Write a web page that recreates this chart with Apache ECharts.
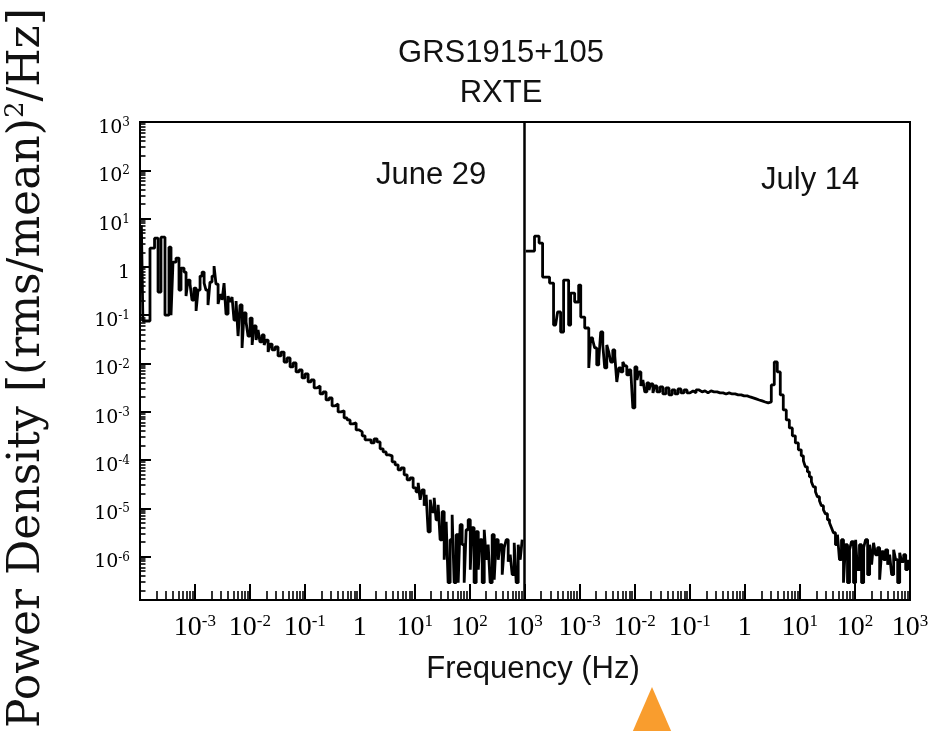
<!DOCTYPE html>
<html>
<head>
<meta charset="utf-8">
<script src="https://cdn.jsdelivr.net/npm/echarts@6/dist/echarts.min.js"></script>
<style>
  html, body { margin: 0; padding: 0; background: #fff; }
  #chart { width: 946px; height: 731px; }
</style>
</head>
<body>
<div id="chart"></div>
<script>
// Frequency bins (Hz), shared by both observations
const frequencyHz = [
  1.06e-4, 1.13e-4, 1.52e-4, 1.84e-4, 2.13e-4, 2.41e-4, 2.85e-4, 3.37e-4, 3.67e-4, 3.99e-4,
  4.53e-4, 5.13e-4, 5.58e-4, 6.33e-4, 6.89e-4, 7.48e-4, 8.14e-4, 8.85e-4, 9.63e-4, 1.05e-3,
  1.14e-3, 1.24e-3, 1.35e-3, 1.47e-3, 1.59e-3, 1.73e-3, 1.88e-3, 2.05e-3, 2.23e-3, 2.42e-3,
  2.64e-3, 2.86e-3, 3.12e-3, 3.39e-3, 3.68e-3, 4.01e-3, 4.36e-3, 4.74e-3, 5.15e-3, 5.61e-3,
  6.10e-3, 6.63e-3, 7.21e-3, 7.84e-3, 8.53e-3, 9.27e-3, 1.01e-2, 1.10e-2, 1.19e-2, 1.30e-2,
  1.41e-2, 1.53e-2, 1.67e-2, 1.82e-2, 1.97e-2, 2.15e-2, 2.33e-2, 2.54e-2, 2.88e-2, 3.26e-2,
  3.70e-2, 4.20e-2, 4.76e-2, 5.40e-2, 6.12e-2, 6.94e-2, 7.87e-2, 8.93e-2, 0.101, 0.115,
  0.130, 0.148, 0.168, 0.190, 0.215, 0.244, 0.277, 0.314, 0.356, 0.404,
  0.458, 0.520, 0.590, 0.668, 0.758, 0.860, 0.975, 1.11, 1.25, 1.42,
  1.61, 1.83, 2.07, 2.35, 2.67, 3.03, 3.43, 3.89, 4.41, 5.00,
  5.67, 6.44, 7.30, 8.28, 9.39, 10.6, 11.6, 12.6, 13.7, 14.9,
  16.2, 17.6, 19.2, 20.8, 22.7, 24.6, 26.8, 29.1, 31.7, 34.5,
  37.5, 40.7, 44.3, 48.2, 52.4, 57.0, 62.0, 67.4, 73.3, 79.8,
  86.7, 94.3, 103, 111, 121, 132, 144, 156, 170, 185,
  201, 218, 237, 258, 281, 305, 332, 361, 393, 427,
  464, 505, 549, 597, 650, 706, 768, 835, 908
];

// Power density, (rms/mean)^2/Hz — June 29
const powerJune29 = [
  7.30, 0.0755, 2.44, 3.93, 0.300, 4.12, 0.100, 2.56, 0.100, 1.25,
  1.52, 0.330, 0.942, 0.779, 0.248, 0.532, 0.440, 0.205, 0.363, 0.122,
  0.330, 0.644, 0.779, 0.461, 0.330, 0.162, 0.484, 0.644, 1.04, 0.440,
  0.170, 0.260, 0.205, 0.461, 0.105, 0.248, 0.187, 0.237, 0.0792, 0.196,
  0.0369, 0.162, 0.0209, 0.111, 0.0720, 0.0369, 0.0871, 0.0241, 0.0595, 0.0305,
  0.0492, 0.0278, 0.0388, 0.0241, 0.0305, 0.0172, 0.0252, 0.0190, 0.0219, 0.0143,
  0.0172, 0.0107, 0.0130, 0.00844, 0.0102, 0.00665, 0.00732, 0.00500, 0.00605, 0.00413,
  0.00455, 0.00311, 0.00342, 0.00233, 0.00257, 0.00175, 0.00193, 0.00132, 0.00145, 0.000990,
  0.00104, 0.000744, 0.000676, 0.000559, 0.000586, 0.000420, 0.000382, 0.000316, 0.000261, 0.000261,
  0.000226, 0.000274, 0.000237, 0.000170, 0.000147, 0.000128, 0.000122, 9.15e-5, 7.93e-5, 6.25e-5,
  6.88e-5, 4.93e-5, 3.88e-5, 4.27e-5, 2.65e-5, 2.19e-5, 3.37e-5, 1.50e-5, 2.41e-5, 1.13e-5,
  1.90e-5, 3.26e-6, 1.50e-5, 8.46e-6, 1.65e-5, 5.78e-6, 1.18e-5, 2.23e-6, 8.46e-6, 8.60e-7,
  5.26e-6, 2.88e-7, 2.23e-6, 7.34e-6, 2.88e-7, 2.83e-6, 2.88e-7, 4.56e-6, 1.76e-6, 2.88e-7,
  3.59e-6, 5.78e-6, 5.34e-7, 3.95e-6, 2.88e-7, 3.26e-6, 5.34e-7, 2.23e-6, 2.88e-7, 3.59e-6,
  8.60e-7, 1.76e-6, 2.88e-7, 2.83e-6, 3.32e-7, 2.23e-6, 8.60e-7, 1.76e-6, 4.21e-7, 1.52e-6,
  2.23e-6, 7.82e-7, 1.09e-6, 4.21e-7, 1.93e-6, 2.88e-7, 1.76e-6, 8.60e-7, 2.23e-6
];

// Power density, (rms/mean)^2/Hz — July 14 (QPO near 4 Hz)
const powerJuly14 = [
  2.12, 2.12, 4.32, 3.10, 0.614, 0.614, 0.461, 0.0624, 0.0624, 0.116,
  0.0447, 0.532, 0.532, 0.0624, 0.286, 0.286, 0.187, 0.187, 0.419, 0.0913,
  0.0913, 0.0541, 0.0541, 0.00805, 0.0336, 0.0305, 0.0209, 0.00929, 0.0118, 0.0447,
  0.0241, 0.00805, 0.0241, 0.0172, 0.0107, 0.0190, 0.0143, 0.00413, 0.00805, 0.00665,
  0.0107, 0.00886, 0.00577, 0.00732, 0.00665, 0.00120, 0.00844, 0.00455, 0.00665, 0.00342,
  0.00455, 0.00257, 0.00394, 0.00282, 0.00376, 0.00245, 0.00342, 0.00257, 0.00326, 0.00233,
  0.00311, 0.00223, 0.00282, 0.00233, 0.00296, 0.00245, 0.00282, 0.00245, 0.00269, 0.00245,
  0.00282, 0.00257, 0.00269, 0.00245, 0.00269, 0.00257, 0.00257, 0.00245, 0.00245, 0.00233,
  0.00245, 0.00233, 0.00233, 0.00223, 0.00223, 0.00212, 0.00212, 0.00202, 0.00193, 0.00184,
  0.00175, 0.00167, 0.00159, 0.00152, 0.00159, 0.00358, 0.0107, 0.00665, 0.00223, 0.00109,
  0.000676, 0.000462, 0.000316, 0.000226, 0.000162, 0.000122, 9.60e-5, 7.21e-5, 5.68e-5, 4.48e-5,
  3.53e-5, 2.78e-5, 2.19e-5, 1.73e-5, 1.43e-5, 1.13e-5, 9.31e-6, 7.69e-6, 5.78e-6, 5.01e-6,
  3.95e-6, 3.11e-6, 1.76e-6, 2.83e-6, 8.60e-7, 2.23e-6, 2.88e-7, 1.76e-6, 2.88e-7, 1.38e-6,
  2.03e-6, 2.88e-7, 2.23e-6, 5.34e-7, 1.76e-6, 2.88e-7, 1.52e-6, 2.23e-6, 4.21e-7, 1.76e-6,
  6.78e-7, 1.93e-6, 1.09e-6, 1.52e-6, 3.32e-7, 1.26e-6, 8.60e-7, 1.38e-6, 6.78e-7, 1.09e-6,
  4.21e-7, 1.38e-6, 8.60e-7, 2.88e-7, 1.20e-6, 7.82e-7, 1.09e-6, 5.34e-7, 8.60e-7
];

const panelLabels = ['June 29', 'July 14'];
const titleLines = ['GRS1915+105', 'RXTE'];
const xTitle = 'Frequency (Hz)';

// Decade exponents used for axis labels and major ticks
const freqLabelExps = [-3, -2, -1, 0, 1, 2, 3];
const freqTickExps = [-4, -3, -2, -1, 0, 1, 2, 3];
const powerLabelExps = [-6, -5, -4, -3, -2, -1, 0, 1, 2, 3];
const freqRange = [-4, 3];
const powerRange = [-6.9, 3];

// Minor ticks at 2..9 times each decade
function minorTicks(lo, hi) {
  const out = [];
  for (let d = Math.floor(lo); d < hi; d++) {
    for (let k = 2; k <= 9; k++) {
      const v = d + Math.log10(k);
      if (v > lo && v < hi) out.push(v);
    }
  }
  return out;
}

function decadeLabel(v) {
  const e = Math.round(v);
  return e === 0 ? '{b|1}' : '{b|10}{s|' + e + '}';
}

const toLogPairs = (power) => frequencyHz.map((f, i) => [Math.log10(f), Math.log10(power[i])]);

const GRID_TOP = 122, GRID_H = 478;
const grids = [
  { left: 140, top: GRID_TOP, width: 384.5, height: GRID_H },
  { left: 524.5, top: GRID_TOP, width: 385.5, height: GRID_H }
].map(g => Object.assign(g, { show: true, borderColor: '#000', borderWidth: 2, backgroundColor: 'transparent' }));

const xLabelRich = {
  b: { fontFamily: 'Liberation Serif', fontSize: 28, color: '#000', lineHeight: 30 },
  s: { fontFamily: 'Liberation Serif', fontSize: 17, color: '#000', verticalAlign: 'top', lineHeight: 16 }
};
const yLabelRich = {
  b: { fontFamily: 'DejaVu Serif', fontSize: 19, color: '#000', lineHeight: 22 },
  s: { fontFamily: 'DejaVu Serif', fontSize: 12, color: '#000', verticalAlign: 'top', lineHeight: 12 }
};

const hiddenLine = { show: false, onZero: false };

function freqAxes(gridIndex) {
  return [
    {
      gridIndex, type: 'value', position: 'bottom', min: freqRange[0], max: freqRange[1],
      axisLine: hiddenLine, splitLine: { show: false },
      axisTick: { show: true, inside: true, length: 16, customValues: freqTickExps, lineStyle: { color: '#000', width: 2 } },
      axisLabel: { show: true, customValues: freqLabelExps, formatter: decadeLabel, rich: xLabelRich, margin: 13 }
    },
    {
      gridIndex, type: 'value', position: 'bottom', min: freqRange[0], max: freqRange[1],
      axisLine: hiddenLine, splitLine: { show: false },
      axisTick: { show: true, inside: true, length: 9, customValues: minorTicks(freqRange[0], freqRange[1]), lineStyle: { color: '#000', width: 1.6 } },
      axisLabel: { show: false }
    }
  ];
}

const option = {
  animation: false,
  backgroundColor: '#fff',
  grid: grids,
  xAxis: [...freqAxes(0), ...freqAxes(1)],
  yAxis: [
    {
      gridIndex: 0, type: 'value', position: 'left', min: powerRange[0], max: powerRange[1],
      axisLine: hiddenLine, splitLine: { show: false },
      axisTick: { show: true, inside: true, length: 11, customValues: powerLabelExps, lineStyle: { color: '#000', width: 2 } },
      axisLabel: { show: true, customValues: powerLabelExps, formatter: decadeLabel, rich: yLabelRich, margin: 10, padding: [12, 0, 0, 0] }
    },
    {
      gridIndex: 0, type: 'value', position: 'left', min: powerRange[0], max: powerRange[1],
      axisLine: hiddenLine, splitLine: { show: false },
      axisTick: { show: true, inside: true, length: 5.5, customValues: minorTicks(powerRange[0], powerRange[1]), lineStyle: { color: '#000', width: 1.6 } },
      axisLabel: { show: false }
    },
    {
      gridIndex: 1, type: 'value', position: 'left', min: powerRange[0], max: powerRange[1],
      axisLine: hiddenLine, splitLine: { show: false }, axisTick: { show: false }, axisLabel: { show: false }
    }
  ],
  series: [
    {
      name: panelLabels[0], type: 'line', xAxisIndex: 0, yAxisIndex: 0, step: 'end',
      showSymbol: false, data: toLogPairs(powerJune29),
      lineStyle: { color: '#000', width: 2.8 }
    },
    {
      name: panelLabels[1], type: 'line', xAxisIndex: 2, yAxisIndex: 2, step: 'end',
      showSymbol: false, data: toLogPairs(powerJuly14),
      lineStyle: { color: '#000', width: 2.8 }
    }
  ],
  graphic: [
    { type: 'text', x: 501, y: 53, style: { text: titleLines[0], font: '31px "Liberation Sans"', fill: '#111', align: 'center', verticalAlign: 'middle' } },
    { type: 'text', x: 501, y: 93, style: { text: titleLines[1], font: '31px "Liberation Sans"', fill: '#111', align: 'center', verticalAlign: 'middle' } },
    { type: 'text', x: 376, y: 175, style: { text: panelLabels[0], font: '31px "Liberation Sans"', fill: '#111', align: 'left', verticalAlign: 'middle' } },
    { type: 'text', x: 761, y: 180, style: { text: panelLabels[1], font: '31px "Liberation Sans"', fill: '#111', align: 'left', verticalAlign: 'middle' } },
    { type: 'text', x: 533, y: 669, style: { text: xTitle, font: '31px "Liberation Sans"', fill: '#111', align: 'center', verticalAlign: 'middle' } },
    {
      type: 'text', x: 28, y: 368, rotation: Math.PI / 2,
      style: {
        text: '{a|Power Density [(rms/mean)}{s|2}{a|/Hz]}',
        align: 'center', verticalAlign: 'middle',
        rich: {
          a: { fontFamily: 'DejaVu Serif', fontSize: 44, fill: '#111', lineHeight: 50 },
          s: { fontFamily: 'DejaVu Serif', fontSize: 26, fill: '#111', verticalAlign: 'top', lineHeight: 30 }
        }
      }
    },
    {
      type: 'polygon',
      shape: { points: [[652, 687], [632, 733], [672, 733]] },
      style: { fill: '#f99d2e' }
    }
  ]
};

const chart = echarts.init(document.getElementById('chart'), null, { renderer: 'canvas' });
chart.setOption(option);
</script>
</body>
</html>
